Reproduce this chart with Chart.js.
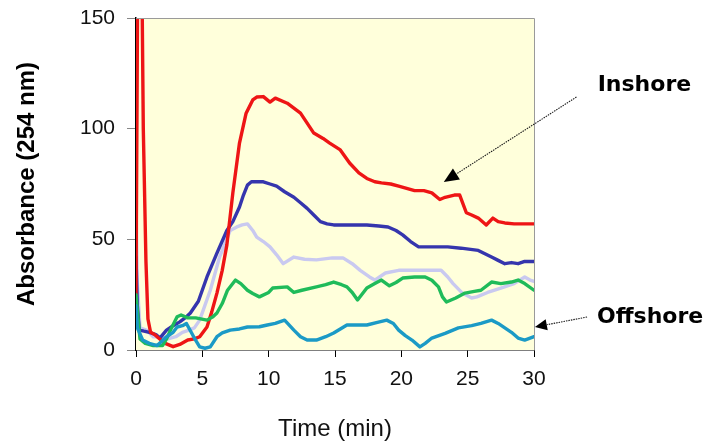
<!DOCTYPE html>
<html>
<head>
<meta charset="utf-8">
<script src="https://cdn.jsdelivr.net/npm/chart.js@4.4.1/dist/chart.umd.min.js"></script>
<style>
  html, body { margin: 0; padding: 0; background: #ffffff; }
  #wrap { width: 709px; height: 444px; }
</style>
</head>
<body>
<div id="wrap"><canvas id="c" width="709" height="444"></canvas></div>
<script>
// Elution traces: absorbance at 254 nm against time (min)
const redTime = [0, 0.12, 0.2, 0.45, 0.55, 0.75, 0.9, 1.1, 1.4, 1.7, 2.2, 2.8, 3.3, 3.9, 4.4, 4.8, 5.35, 5.7, 6.1, 6.5, 6.85, 7.3, 7.8, 8.3, 8.8, 9.1, 9.6, 10.1, 10.5, 11.4, 12.4, 13.4, 14.1, 14.6, 15.4, 16.1, 16.8, 17.4, 18.0, 18.5, 19.2, 19.8, 20.4, 21.0, 21.7, 22.3, 22.9, 23.3, 24.0, 24.4, 24.9, 25.3, 25.8, 26.4, 26.9, 27.3, 27.8, 28.5, 29.2, 30];
const redAbs  = [25, 160, 170, 165, 100, 40, 14, 8, 7, 5.4, 3, 1.5, 2.5, 4.5, 5, 6, 10.4, 17, 25.7, 36, 47.5, 71, 93.5, 107, 113, 114.3, 114.5, 112, 113.8, 111.5, 107, 98, 95.6, 93.5, 90.4, 84.5, 80, 77.5, 76, 75.5, 75, 74, 73, 72, 72, 71, 68, 69, 70, 70, 62, 61, 59.6, 56.5, 59.6, 58, 57.4, 57, 57, 57];

const blueTime = [0, 0.1, 0.25, 0.6, 1.0, 1.5, 1.8, 2.3, 2.8, 3.3, 3.7, 4.1, 4.7, 5.35, 6.1, 6.85, 7.3, 7.8, 8.1, 8.4, 8.7, 9.6, 10.1, 10.6, 11.2, 11.9, 12.4, 12.9, 13.4, 13.9, 14.4, 14.9, 16.0, 17.4, 18.3, 19.0, 19.6, 20.1, 20.7, 21.3, 22.0, 23.5, 24.5, 25.8, 26.3, 26.8, 27.3, 27.8, 28.3, 28.8, 29.3, 30];
const blueAbs  = [42, 20, 9, 8.5, 8, 7, 5.4, 9, 11, 12.7, 14.5, 16.7, 22, 33, 43.8, 54, 58, 64.6, 70, 74.5, 76, 76, 75, 74, 71.5, 69, 66.5, 64, 61, 58, 57, 56.5, 56.5, 56.5, 56, 55.6, 54, 52, 49, 46.6, 46.6, 46.6, 46, 45, 43.5, 42, 40.5, 39, 39.5, 39, 40, 40];

const lilacTime = [0, 0.1, 0.3, 0.8, 1.3, 1.9, 2.4, 3.0, 3.5, 4.0, 4.4, 4.8, 5.6, 6.3, 6.7, 7.1, 7.6, 8.0, 8.4, 8.8, 9.1, 9.6, 10.1, 10.6, 11.1, 11.9, 12.7, 13.6, 14.8, 15.6, 16.3, 16.9, 17.6, 18.0, 18.8, 19.8, 21.0, 22.2, 23.0, 23.5, 23.9, 24.6, 25.3, 25.7, 26.5, 27.5, 28.5, 29.3, 29.7, 30];
const lilacAbs  = [68, 30, 10, 9, 6, 6, 5, 6, 8, 9, 10, 13.5, 27, 42, 48, 54, 55.6, 56.5, 57, 54, 51, 49, 46.6, 43, 39, 42, 41, 40.7, 41.6, 41.6, 39, 36, 33, 31.6, 34.8, 36, 36, 36, 36, 33, 30, 25.7, 23.5, 24, 26, 28, 30, 33, 31.6, 31];

const greenTime = [0, 0.1, 0.3, 0.7, 1.3, 2.0, 2.3, 2.6, 3.1, 3.4, 3.9, 4.5, 5.35, 5.8, 6.1, 6.5, 6.9, 7.5, 7.9, 8.4, 8.8, 9.3, 10.0, 10.3, 11.4, 11.9, 12.5, 13.6, 14.3, 14.9, 15.5, 15.9, 16.3, 16.7, 17.4, 18.0, 18.5, 19.1, 19.6, 20.1, 21.0, 21.8, 22.3, 22.8, 23.1, 23.4, 24.1, 24.8, 25.5, 26.0, 26.8, 27.5, 28.3, 28.8, 29.3, 30];
const greenAbs  = [25, 18, 5, 3, 2, 2, 5, 9, 15, 15.8, 14.5, 14.5, 13.5, 15, 16.7, 21, 27, 31.6, 30, 27, 25.5, 24, 26, 28, 28.5, 26, 27, 28.5, 29.5, 30.7, 29.5, 28.5, 26, 22.6, 28, 30, 31.6, 29, 30.5, 32.5, 33, 33, 31.5, 28.5, 24, 21.7, 23.5, 25.7, 26.5, 27, 30.7, 30, 30.7, 31.6, 30, 27];

const tealTime = [0, 0.1, 0.5, 1.0, 1.6, 2.3, 2.8, 3.1, 3.5, 3.8, 4.4, 4.8, 5.2, 5.6, 6.1, 6.5, 7.1, 7.8, 8.4, 9.3, 9.9, 10.5, 11.2, 11.9, 12.4, 12.9, 13.6, 14.3, 14.9, 15.4, 15.9, 17.4, 18.2, 18.9, 19.4, 19.8, 20.3, 20.8, 21.4, 21.8, 22.3, 23.3, 24.3, 25.3, 26.0, 26.8, 27.3, 27.8, 28.3, 28.8, 29.3, 30];
const tealAbs  = [20, 10, 4.5, 3, 2, 6, 8, 10.4, 11, 12, 5.4, 1.4, 0.8, 1.4, 6, 7.7, 9, 9.5, 10.4, 10.5, 11.3, 12, 13.5, 9, 6, 4.5, 4.5, 6, 7.7, 9.5, 11.3, 11.3, 12.5, 13.5, 12, 9, 6.5, 4.5, 1.4, 3, 5.4, 7.5, 10, 11, 12, 13.5, 12, 10, 8, 5.4, 4.5, 6];

const timeTicks = [0, 5, 10, 15, 20, 25, 30];
const absTicks = [0, 50, 100, 150];

function pairs(xs, ys) {
  return xs.map((x, i) => ({ x: x, y: ys[i] }));
}

// Plot background, top/right frame and the two callout arrows
const framePlugin = {
  id: 'frame',
  beforeDatasetsDraw(chart) {
    const { ctx, chartArea: a } = chart;
    ctx.save();
    ctx.fillStyle = '#ffffdb';
    ctx.fillRect(a.left, a.top, a.right - a.left, a.bottom - a.top);
    ctx.restore();
  },
  afterDraw(chart) {
    const { ctx, chartArea: a, scales } = chart;
    const xs = scales.x, ys = scales.y;
    ctx.save();
    ctx.strokeStyle = '#9a9a9a';
    ctx.lineWidth = 1;
    ctx.beginPath();
    ctx.moveTo(a.left, a.top + 0.5);
    ctx.lineTo(a.right + 0.5, a.top + 0.5);
    ctx.lineTo(a.right + 0.5, a.bottom);
    ctx.stroke();

    const callouts = [
      { text: 'Inshore',  at: [34.8, 119.7],  from: [33.2, 114.3], to: [23.2, 75.9], head: 15, half: 6.5 },
      { text: 'Offshore', at: [34.75, 14.9],  from: [34.0, 14.9],  to: [30.07, 10.4], head: 12, half: 5.5 }
    ];
    callouts.forEach(c => {
      const fx = xs.getPixelForValue(c.from[0]), fy = ys.getPixelForValue(c.from[1]);
      const tx = xs.getPixelForValue(c.to[0]),   ty = ys.getPixelForValue(c.to[1]);
      const ang = Math.atan2(ty - fy, tx - fx);
      const bx = tx - Math.cos(ang) * c.head, by = ty - Math.sin(ang) * c.head;
      ctx.strokeStyle = '#1a1a1a';
      ctx.lineWidth = 1.1;
      ctx.setLineDash([1.5, 1]);
      ctx.beginPath();
      ctx.moveTo(fx, fy);
      ctx.lineTo(bx, by);
      ctx.stroke();
      ctx.setLineDash([]);
      ctx.fillStyle = '#000000';
      ctx.beginPath();
      ctx.moveTo(tx, ty);
      ctx.lineTo(bx + Math.sin(ang) * c.half, by - Math.cos(ang) * c.half);
      ctx.lineTo(bx - Math.sin(ang) * c.half, by + Math.cos(ang) * c.half);
      ctx.closePath();
      ctx.fill();

      ctx.font = 'bold 22px "DejaVu Sans"';
      ctx.fillStyle = '#000000';
      ctx.textAlign = 'left';
      ctx.textBaseline = 'middle';
      ctx.fillText(c.text, xs.getPixelForValue(c.at[0]), ys.getPixelForValue(c.at[1]));
    });
    ctx.restore();
  }
};

const lineStyle = { borderWidth: 3.4, pointRadius: 0, tension: 0, fill: false, clip: 0, borderJoinStyle: 'round', borderCapStyle: 'round' };

new Chart(document.getElementById('c'), {
  type: 'line',
  data: {
    datasets: [
      Object.assign({ label: 'Offshore 2', data: pairs(tealTime, tealAbs), borderColor: '#1b9ac6' }, lineStyle),
      Object.assign({ label: 'Offshore 1', data: pairs(greenTime, greenAbs), borderColor: '#1fbb5a' }, lineStyle),
      Object.assign({ label: 'Inshore 1', data: pairs(redTime, redAbs), borderColor: '#ee1515' }, lineStyle),
      Object.assign({ label: 'Inshore 2', data: pairs(blueTime, blueAbs), borderColor: '#3535ad' }, lineStyle),
      Object.assign({ label: 'Inshore 3', data: pairs(lilacTime, lilacAbs), borderColor: '#c9c9f0' }, lineStyle)
    ]
  },
  options: {
    responsive: false,
    animation: false,
    devicePixelRatio: 1,
    layout: { padding: { left: 0, right: 175, top: 18, bottom: 0 } },
    plugins: { legend: { display: false }, tooltip: { enabled: false } },
    scales: {
      x: {
        type: 'linear',
        min: 0, max: 30,
        afterFit(scale) { scale.height = 94; },
        afterBuildTicks(scale) { scale.ticks = timeTicks.map(v => ({ value: v })); },
        grid: { drawOnChartArea: false, tickLength: 7, tickColor: '#000000', tickWidth: 1 },
        border: { color: '#000000', width: 1.5 },
        ticks: { color: '#111111', padding: 10, maxRotation: 0, font: { family: 'Liberation Sans', size: 21 } },
        title: { display: true, text: 'Time (min)', color: '#111111', font: { family: 'Liberation Sans', size: 24 }, padding: { top: 0, bottom: 0 } }
      },
      y: {
        min: 0, max: 150,
        afterFit(scale) { scale.width = 136; scale.paddingTop = 0; scale.paddingBottom = 0; },
        afterBuildTicks(scale) { scale.ticks = absTicks.map(v => ({ value: v })); },
        grid: { drawOnChartArea: false, tickLength: 9, tickColor: '#888888', tickWidth: 1 },
        border: { color: '#000000', width: 1.5 },
        ticks: { color: '#111111', padding: 12, font: { family: 'Liberation Sans', size: 21 } },
        title: { display: true, text: 'Absorbance (254 nm)', color: '#000000', font: { family: 'Liberation Sans', size: 24, weight: 'bold' }, padding: { top: 13, bottom: 0 } }
      }
    }
  },
  plugins: [framePlugin]
});
</script>
</body>
</html>
